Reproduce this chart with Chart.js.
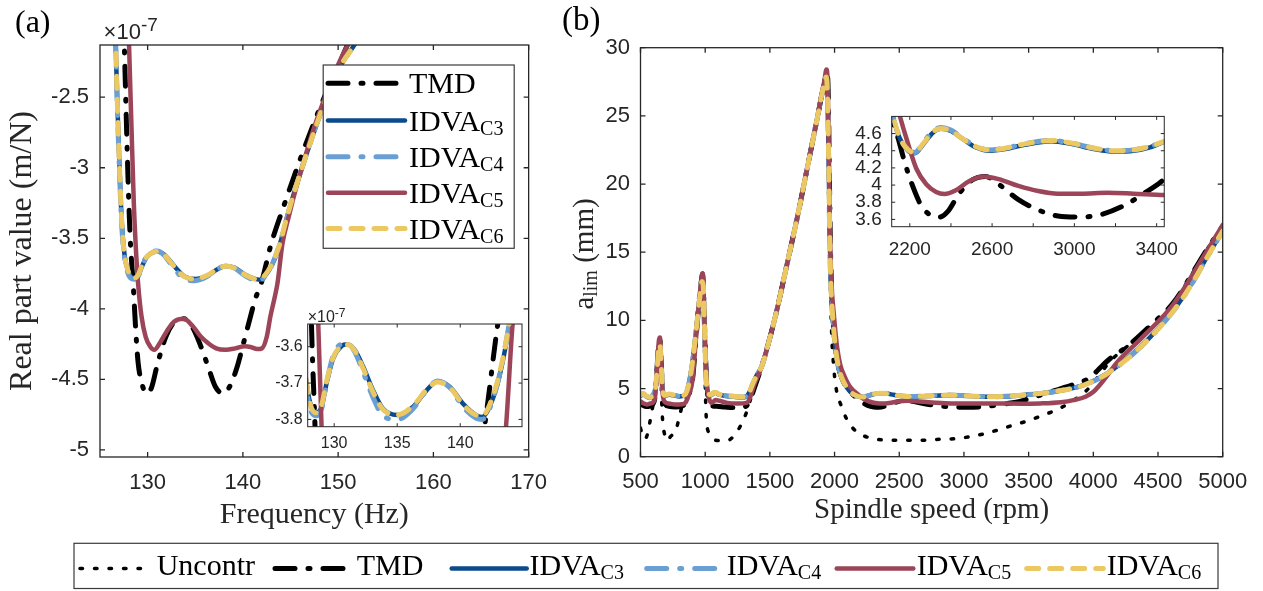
<!DOCTYPE html>
<html lang="en">
<head>
<meta charset="utf-8">
<title>Real part of the FRF and limiting depth of cut</title>
<script src="https://cdn.jsdelivr.net/npm/chart.js@4.4.1/dist/chart.umd.min.js"></script>
<style>
  html, body { margin: 0; padding: 0; background: #fff; }
  #page { position: relative; width: 1263px; height: 591px; overflow: hidden; background: #fff; }
  #page canvas { position: absolute; display: block; }
</style>
</head>
<body>
<div id="page">
  <canvas id="frfMain" width="560" height="540" style="left:0;top:0;width:560px;height:540px"></canvas>
  <canvas id="alimMain" width="703" height="540" style="left:560px;top:0;width:703px;height:540px"></canvas>
  <canvas id="frfZoom" width="280" height="165" style="left:250px;top:295px;width:280px;height:165px"></canvas>
  <canvas id="alimZoom" width="350" height="170" style="left:840px;top:95px;width:350px;height:170px"></canvas>
  <canvas id="legendBar" width="1263" height="51" style="left:0;top:540px;width:1263px;height:51px"></canvas>
</div>
<script>
// ---------------- (a) real part of the tool-tip FRF, in units of 1e-7 m/N ----------------
const frfExponent = '-7';
const freqTMD = [127.3, 127.55, 127.8, 128.0, 128.2, 128.48, 128.75, 129.0, 129.4, 129.9, 130.4, 131.0, 131.9, 132.85, 133.8, 134.7, 135.5, 136.4, 137.1, 137.9, 138.7, 139.4, 140.0, 140.7, 141.3, 141.92, 142.97, 144.3, 145.8, 147.3, 148.8, 150.2, 151.1, 152.0];
const reTMD   = [-1.6, -2.13, -2.75, -3.2, -3.54, -3.82, -4.15, -4.38, -4.53, -4.6, -4.56, -4.4, -4.2, -4.09, -4.07, -4.13, -4.25, -4.42, -4.55, -4.6, -4.54, -4.41, -4.26, -4.08, -3.93, -3.82, -3.54, -3.27, -2.98, -2.71, -2.46, -2.25, -2.11, -1.98];

const freqIDVA = [126.45, 126.65, 126.8, 127.05, 127.3, 127.6, 127.9, 128.19, 128.61, 129.01, 129.4, 129.92, 130.59, 131.03, 131.65, 132.3, 133.09, 133.86, 135.02, 136.27, 137.33, 138.19, 139.16, 140.21, 141.27, 141.75, 142.33, 143.1, 143.87, 144.6, 145.5, 146.5, 147.5, 148.5, 149.5, 150.5, 151.7, 152.5];
const reC3 = [-1.7, -2.13, -2.5, -3.0, -3.4, -3.63, -3.72, -3.765, -3.78, -3.765, -3.70, -3.632, -3.598, -3.593, -3.61, -3.655, -3.72, -3.77, -3.788, -3.765, -3.72, -3.696, -3.71, -3.756, -3.788, -3.793, -3.765, -3.683, -3.545, -3.36, -3.15, -2.94, -2.74, -2.55, -2.38, -2.25, -2.13, -2.04];
const reC4 = [-1.7, -2.13, -2.52, -3.03, -3.43, -3.65, -3.74, -3.78, -3.79, -3.77, -3.70, -3.625, -3.592, -3.59, -3.615, -3.67, -3.74, -3.79, -3.80, -3.77, -3.72, -3.694, -3.712, -3.765, -3.797, -3.80, -3.77, -3.68, -3.54, -3.36, -3.15, -2.94, -2.74, -2.55, -2.38, -2.25, -2.13, -2.04];
const reC6 = [-1.7, -2.13, -2.5, -3.0, -3.4, -3.63, -3.72, -3.768, -3.782, -3.76, -3.695, -3.63, -3.598, -3.594, -3.612, -3.66, -3.725, -3.772, -3.787, -3.762, -3.718, -3.697, -3.712, -3.758, -3.788, -3.79, -3.76, -3.675, -3.54, -3.355, -3.15, -2.94, -2.74, -2.55, -2.38, -2.25, -2.13, -2.04];

const freqC5 = [127.85, 128.05, 128.3, 128.55, 128.74, 129.0, 129.35, 129.8, 130.3, 130.7, 131.3, 132.0, 132.8, 133.8, 134.7, 135.5, 136.3, 137.2, 138.2, 139.2, 140.2, 140.8, 141.5, 142.0, 142.5, 142.9, 143.3, 143.63, 144.15, 144.8, 145.6, 146.5, 147.4, 148.4, 149.3, 150.2, 151.0, 151.8];
const reC5   = [-1.6, -2.13, -2.7, -3.25, -3.54, -3.82, -4.05, -4.2, -4.27, -4.29, -4.24, -4.16, -4.09, -4.07, -4.12, -4.19, -4.24, -4.28, -4.29, -4.28, -4.265, -4.27, -4.285, -4.28, -4.2, -4.05, -3.93, -3.82, -3.54, -3.35, -3.14, -2.93, -2.73, -2.54, -2.38, -2.24, -2.13, -2.02];

const freqTicks = [130, 140, 150, 160, 170];
const freqTickLabels = ['130', '140', '150', '160', '170'];
const reTicks = [-5, -4.5, -4, -3.5, -3, -2.5];
const reTickLabels = ['-5', '-4.5', '-4', '-3.5', '-3', '-2.5'];
const zoomFreqTicks = [130, 135, 140];
const zoomFreqLabels = ['130', '135', '140'];
const zoomReTicks = [-3.8, -3.7, -3.6];
const zoomReLabels = ['-3.8', '-3.7', '-3.6'];

// ---------------- (b) limiting axial depth of cut vs spindle speed ----------------
const rpmUnc  = [500, 515, 535, 555, 573, 595, 615, 632, 645, 652, 660, 666, 675, 690, 707, 730, 775, 805, 830, 855, 878, 900, 930, 955, 975, 983, 993, 1000, 1005, 1012, 1035, 1063, 1110, 1166, 1220, 1269, 1321, 1350, 1380, 1436, 1505, 1560, 1609, 1660, 1713, 1760, 1800, 1840, 1870, 1900, 1922, 1938, 1947, 1954, 1960, 1966, 1972, 1980, 1990, 2000, 2020, 2043, 2095, 2164, 2268, 2407, 2545, 2650, 2788, 2927, 3065, 3204, 3343, 3481, 3614, 3743, 3850, 3950, 4040, 4130, 4250, 4337, 4440, 4620, 4878, 5000];
const alimUnc = [2.1, 1.55, 1.3, 1.7, 2.56, 3.7, 4.6, 6.9, 8.5, 8.4, 5.5, 3.5, 2.3, 1.5, 1.17, 1.45, 2.0, 3.1, 4.0, 4.3, 4.8, 5.5, 8.8, 11.6, 13.2, 12.8, 9.0, 5.5, 3.6, 2.4, 1.7, 1.3, 1.18, 1.17, 1.5, 2.2, 3.3, 4.2, 5.2, 6.6, 8.9, 11.0, 13.1, 15.3, 17.6, 19.8, 21.7, 23.6, 25.0, 26.5, 27.4, 28.1, 27.6, 25.0, 20.0, 15.0, 11.0, 8.5, 7.0, 5.9, 4.6, 3.95, 2.73, 1.88, 1.39, 1.22, 1.2, 1.2, 1.27, 1.32, 1.5, 1.8, 2.2, 2.6, 3.05, 3.56, 4.15, 4.88, 5.9, 7.0, 8.0, 8.7, 9.6, 11.3, 15.2, 16.9];

const rpmTMD  = [500, 530, 560, 590, 612, 630, 643, 650, 660, 672, 690, 720, 770, 820, 850, 875, 900, 930, 955, 972, 980, 990, 1000, 1012, 1027, 1050, 1090, 1150, 1220, 1290, 1330, 1360, 1400, 1436, 1505, 1560, 1609, 1660, 1713, 1760, 1800, 1840, 1870, 1900, 1922, 1938, 1947, 1954, 1960, 1967, 1975, 1985, 2000, 2030, 2060, 2090, 2112, 2144, 2176, 2216, 2256, 2304, 2344, 2384, 2440, 2504, 2568, 2632, 2728, 2824, 2920, 3024, 3128, 3240, 3336, 3432, 3550, 3700, 3850, 3976, 4040, 4130, 4250, 4337, 4440, 4620, 4878, 5000];
const alimTMD = [3.85, 3.72, 3.68, 3.8, 4.4, 6.8, 8.5, 8.6, 6.9, 4.5, 3.85, 3.7, 3.65, 3.72, 3.95, 4.6, 5.5, 8.8, 11.6, 13.0, 13.4, 11.2, 8.0, 5.4, 4.1, 3.75, 3.7, 3.65, 3.6, 3.62, 3.85, 4.5, 5.6, 6.6, 8.9, 11.0, 13.1, 15.3, 17.6, 19.8, 21.7, 23.6, 25.0, 26.5, 27.4, 28.2, 27.8, 25.0, 20.5, 16.0, 12.8, 10.8, 8.6, 6.6, 5.7, 5.1, 4.8, 4.54, 4.26, 3.975, 3.76, 3.645, 3.627, 3.69, 3.90, 4.06, 4.10, 4.01, 3.83, 3.71, 3.64, 3.627, 3.655, 3.76, 3.90, 4.06, 4.4, 4.85, 5.3, 5.8, 6.4, 7.2, 8.0, 8.7, 9.6, 11.3, 15.2, 16.9];

const rpmIDVA = [500, 520, 545, 570, 595, 615, 630, 642, 650, 660, 672, 690, 720, 760, 800, 840, 865, 890, 915, 940, 960, 975, 985, 995, 1005, 1018, 1040, 1075, 1110, 1160, 1220, 1280, 1315, 1340, 1370, 1400, 1436, 1505, 1560, 1609, 1660, 1713, 1760, 1800, 1840, 1870, 1900, 1922, 1935, 1943, 1950, 1957, 1964, 1972, 1982, 1993, 2008, 2030, 2055, 2080, 2100, 2120, 2152, 2192, 2224, 2264, 2312, 2352, 2400, 2456, 2520, 2584, 2664, 2760, 2888, 2984, 3096, 3192, 3288, 3368, 3437, 3589, 3718, 3924, 4105, 4362, 4620, 4750, 4878, 5000];
const alimC3 = [4.45, 4.6, 4.45, 4.35, 4.5, 5.0, 6.6, 8.1, 8.3, 6.8, 4.8, 4.45, 4.55, 4.5, 4.42, 4.5, 5.0, 6.2, 8.0, 10.2, 11.9, 12.9, 12.6, 9.5, 6.2, 4.75, 4.5, 4.7, 4.55, 4.45, 4.4, 4.35, 4.4, 4.7, 5.4, 6.0, 6.6, 8.9, 11.0, 13.1, 15.3, 17.6, 19.8, 21.7, 23.6, 25.0, 26.5, 27.4, 27.9, 27.2, 24.5, 20.0, 15.5, 12.5, 10.8, 9.4, 7.9, 6.6, 5.8, 5.3, 5.0, 4.78, 4.54, 4.40, 4.37, 4.47, 4.61, 4.655, 4.63, 4.54, 4.44, 4.40, 4.42, 4.47, 4.51, 4.48, 4.42, 4.39, 4.40, 4.44, 4.506, 4.64, 4.8, 5.25, 6.1, 8.05, 10.74, 12.55, 14.64, 16.6];
const alimC4 = [4.5, 4.62, 4.42, 4.33, 4.52, 5.0, 6.5, 8.0, 8.2, 6.7, 4.8, 4.5, 4.58, 4.52, 4.44, 4.52, 5.0, 6.1, 7.9, 10.1, 11.8, 12.8, 12.5, 9.4, 6.1, 4.78, 4.52, 4.72, 4.57, 4.47, 4.42, 4.37, 4.42, 4.72, 5.4, 6.0, 6.6, 8.9, 11.0, 13.1, 15.3, 17.6, 19.8, 21.7, 23.6, 25.0, 26.5, 27.4, 27.8, 27.0, 24.3, 19.8, 15.3, 12.4, 10.7, 9.3, 7.9, 6.6, 5.8, 5.3, 5.0, 4.79, 4.55, 4.41, 4.38, 4.49, 4.63, 4.67, 4.64, 4.55, 4.45, 4.41, 4.43, 4.48, 4.52, 4.49, 4.43, 4.40, 4.41, 4.45, 4.51, 4.64, 4.8, 5.24, 6.08, 8.02, 10.7, 12.5, 14.6, 16.55];
const alimC6 = [4.55, 4.63, 4.46, 4.36, 4.5, 5.0, 6.55, 8.05, 8.25, 6.75, 4.8, 4.5, 4.6, 4.53, 4.45, 4.52, 5.0, 6.15, 7.95, 10.15, 11.85, 12.85, 12.55, 9.45, 6.15, 4.8, 4.55, 4.73, 4.58, 4.48, 4.43, 4.38, 4.43, 4.72, 5.4, 6.0, 6.6, 8.9, 11.0, 13.1, 15.3, 17.6, 19.8, 21.7, 23.6, 25.0, 26.5, 27.4, 27.85, 27.1, 24.4, 19.9, 15.4, 12.45, 10.75, 9.35, 7.9, 6.6, 5.8, 5.3, 5.0, 4.79, 4.55, 4.41, 4.38, 4.48, 4.62, 4.66, 4.63, 4.54, 4.45, 4.41, 4.43, 4.48, 4.52, 4.49, 4.43, 4.40, 4.41, 4.45, 4.51, 4.64, 4.8, 5.24, 6.08, 8.02, 10.7, 12.5, 14.6, 16.55];

const rpmC5  = [500, 525, 550, 575, 600, 615, 630, 642, 650, 660, 672, 690, 720, 770, 820, 850, 875, 900, 930, 955, 970, 980, 990, 1000, 1012, 1027, 1050, 1080, 1110, 1170, 1250, 1320, 1345, 1380, 1436, 1505, 1560, 1609, 1660, 1713, 1760, 1800, 1840, 1870, 1900, 1922, 1937, 1946, 1953, 1960, 1968, 1978, 1990, 2003, 2020, 2045, 2077, 2105, 2130, 2152, 2184, 2232, 2280, 2328, 2368, 2424, 2488, 2560, 2632, 2728, 2824, 2920, 3032, 3160, 3288, 3437, 3589, 3750, 3847, 3940, 4001, 4040, 4079, 4182, 4362, 4620, 4878, 5000];
const alimC5 = [4.05, 3.9, 3.83, 3.9, 4.0, 4.6, 6.8, 8.5, 8.75, 7.0, 4.6, 4.0, 3.9, 3.83, 3.85, 4.0, 4.6, 5.5, 8.8, 11.6, 12.9, 13.45, 11.5, 8.0, 5.5, 4.4, 3.95, 4.15, 4.1, 3.95, 3.9, 3.95, 4.3, 5.3, 6.6, 8.9, 11.0, 13.1, 15.3, 17.6, 19.8, 21.7, 23.6, 25.0, 26.6, 27.6, 28.4, 27.6, 24.0, 19.0, 15.0, 12.4, 10.9, 9.5, 8.0, 6.7, 5.9, 5.35, 5.0, 4.8, 4.54, 4.19, 4.01, 3.92, 3.896, 3.94, 4.045, 4.10, 4.07, 3.99, 3.93, 3.90, 3.90, 3.91, 3.90, 3.885, 3.91, 4.0, 4.15, 4.4, 4.76, 5.15, 5.6, 6.9, 8.6, 11.2, 15.1, 17.0];

const rpmTicks = [500, 1000, 1500, 2000, 2500, 3000, 3500, 4000, 4500, 5000];
const rpmTickLabels = ['500', '1000', '1500', '2000', '2500', '3000', '3500', '4000', '4500', '5000'];
const alimTicks = [0, 5, 10, 15, 20, 25, 30];
const alimTickLabels = ['0', '5', '10', '15', '20', '25', '30'];
const zoomRpmTicks = [2200, 2400, 2600, 2800, 3000, 3200, 3400];
const zoomRpmLabels = ['2200', '', '2600', '', '3000', '', '3400'];
const zoomAlimTicks = [3.6, 3.8, 4, 4.2, 4.4, 4.6];
const zoomAlimLabels = ['3.6', '3.8', '4', '4.2', '4.4', '4.6'];

// ---------------- look ----------------
const SERIF = '"Liberation Serif", "Times New Roman", serif';
const SANS = '"Liberation Sans", Arial, Helvetica, sans-serif';
const INK = '#262626';
Chart.defaults.font.family = SANS;

const STYLES = {
  unc: { color: '#000000', width: 3.5, dash: [2.5, 12] },
  tmd: { color: '#000000', width: 5, dash: [20, 13, 2, 13] },
  c3:  { color: '#0b4a8c', width: 4.5, dash: [] },
  c4:  { color: '#6a9fd3', width: 5, dash: [20, 13, 2, 13] },
  c5:  { color: '#9c4558', width: 4.5, dash: [] },
  c6:  { color: '#ebc862', width: 5, dash: [12, 11] }
};
const LEGEND_ITEMS = [
  { key: 'unc', name: 'Uncontr', sub: '' },
  { key: 'tmd', name: 'TMD', sub: '' },
  { key: 'c3', name: 'IDVA', sub: 'C3' },
  { key: 'c4', name: 'IDVA', sub: 'C4' },
  { key: 'c5', name: 'IDVA', sub: 'C5' },
  { key: 'c6', name: 'IDVA', sub: 'C6' }
];

function line(xs, ys, key, order) {
  const st = STYLES[key];
  return {
    data: xs.map((x, i) => ({ x: x, y: ys[i] })),
    borderColor: st.color, borderWidth: st.width, borderDash: st.dash,
    borderCapStyle: 'round', borderJoinStyle: 'round',
    pointRadius: 0, pointHoverRadius: 0, fill: false,
    cubicInterpolationMode: 'monotone', clip: 0, order: order
  };
}

function frfSets() {
  return [
    line(freqTMD, reTMD, 'tmd', 5),
    line(freqIDVA, reC3, 'c3', 4),
    line(freqIDVA, reC4, 'c4', 3),
    line(freqC5, reC5, 'c5', 2),
    line(freqIDVA, reC6, 'c6', 1)
  ];
}
function alimSets() {
  return [
    line(rpmUnc, alimUnc, 'unc', 6),
    line(rpmTMD, alimTMD, 'tmd', 5),
    line(rpmIDVA, alimC3, 'c3', 4),
    line(rpmIDVA, alimC4, 'c4', 3),
    line(rpmC5, alimC5, 'c5', 2),
    line(rpmIDVA, alimC6, 'c6', 1)
  ];
}

function scale(cfg) {
  return {
    type: 'linear', min: cfg.min, max: cfg.max,
    grid: { display: false, drawTicks: false, tickLength: 0 },
    border: { display: false },
    afterBuildTicks: s => { s.ticks = cfg.ticks.map(v => ({ value: v })); },
    afterFit: s => {
      if (cfg.w !== undefined) s.width = cfg.w;
      if (cfg.h !== undefined) s.height = cfg.h;
    },
    ticks: {
      autoSkip: false, maxRotation: 0, minRotation: 0, padding: cfg.pad, color: INK,
      font: { family: SANS, size: cfg.fs }, callback: (v, i) => cfg.labels[i]
    },
    title: cfg.title
      ? { display: true, text: cfg.title, color: INK, font: { family: SERIF, size: cfg.tfs }, padding: cfg.tpad }
      : { display: false }
  };
}

// axes box with inward ticks on all four sides, plus any overlays
function framePlugin(opt) {
  return {
    id: 'frame',
    beforeDraw(chart) {
      if (!opt.fill) return;
      const a = chart.chartArea, c = chart.ctx;
      c.save();
      c.fillStyle = '#ffffff';
      c.fillRect(a.left, a.top, a.right - a.left, a.bottom - a.top);
      c.restore();
    },
    afterDraw(chart) {
      const a = chart.chartArea, c = chart.ctx, xs = chart.scales.x, ys = chart.scales.y;
      c.save();
      c.strokeStyle = INK; c.lineWidth = opt.lw; c.lineCap = 'butt'; c.setLineDash([]);
      c.beginPath();
      xs.ticks.forEach(t => {
        const p = xs.getPixelForValue(t.value);
        c.moveTo(p, a.bottom); c.lineTo(p, a.bottom - opt.tick);
        c.moveTo(p, a.top); c.lineTo(p, a.top + opt.tick);
      });
      ys.ticks.forEach(t => {
        const p = ys.getPixelForValue(t.value);
        c.moveTo(a.left, p); c.lineTo(a.left + opt.tick, p);
        c.moveTo(a.right, p); c.lineTo(a.right - opt.tick, p);
      });
      c.stroke();
      c.strokeRect(a.left, a.top, a.right - a.left, a.bottom - a.top);
      c.restore();
      if (opt.decorate) opt.decorate(c, chart);
    }
  };
}

function makeChart(id, datasets, xCfg, yCfg, pad, frame) {
  return new Chart(document.getElementById(id), {
    type: 'line',
    data: { datasets: datasets },
    options: {
      responsive: false, animation: false, devicePixelRatio: 1, events: [],
      layout: { padding: pad },
      plugins: { legend: { display: false }, tooltip: { enabled: false } },
      scales: { x: scale(xCfg), y: scale(yCfg) }
    },
    plugins: [frame]
  });
}

// ---------------- text helpers ----------------
function drawTag(c, text, x, y, size) {
  c.save();
  c.font = size + 'px ' + SERIF; c.fillStyle = '#000'; c.textAlign = 'left'; c.textBaseline = 'alphabetic';
  c.fillText(text, x, y);
  c.restore();
}
function drawExponent(c, x, y, size, supSize, rise) {
  c.save();
  c.fillStyle = INK; c.textAlign = 'left'; c.textBaseline = 'alphabetic';
  c.font = size + 'px ' + SANS;
  c.fillText('\u00d710', x, y);
  const w = c.measureText('\u00d710').width;
  c.font = supSize + 'px ' + SANS;
  c.fillText(frfExponent, x + w, y - rise);
  c.restore();
}
function drawName(c, x, baseline, name, sub, size, subSize, drop) {
  c.fillStyle = '#000'; c.textAlign = 'left'; c.textBaseline = 'alphabetic';
  c.font = size + 'px ' + SERIF;
  c.fillText(name, x, baseline);
  if (sub) {
    const w = c.measureText(name).width;
    c.font = subSize + 'px ' + SERIF;
    c.fillText(sub, x + w, baseline + drop);
  }
}
function drawSample(c, x0, x1, y, key) {
  const st = STYLES[key];
  c.save();
  c.strokeStyle = st.color; c.lineWidth = st.width; c.lineCap = 'round';
  c.setLineDash(st.dash);
  c.beginPath(); c.moveTo(x0, y); c.lineTo(x1, y); c.stroke();
  c.restore();
}

// legend inside panel (a)
const LEGEND_A = { x: 323.2, y: 65, w: 191, h: 183.3, x0: 328, x1: 405, tx: 409, rows: [83.3, 120.5, 156.7, 192.7, 228.5] };
function decorateFrf(c) {
  drawTag(c, '(a)', 15, 31.5, 32);
  drawExponent(c, 103.6, 39.3, 22, 19, 8);
  const L = LEGEND_A;
  c.save();
  c.fillStyle = '#fff'; c.fillRect(L.x, L.y, L.w, L.h);
  c.strokeStyle = '#3a3a3a'; c.lineWidth = 1.2; c.setLineDash([]);
  c.strokeRect(L.x, L.y, L.w, L.h);
  LEGEND_ITEMS.slice(1).forEach((it, i) => {
    drawSample(c, L.x0, L.x1, L.rows[i], it.key);
    drawName(c, L.tx, L.rows[i] + 10, it.name, it.sub, 30, 20, 4);
  });
  c.restore();
}
function decorateFrfZoom(c) {
  drawExponent(c, 57.7, 26.7, 16, 12, 5);
}
function decorateAlim(c) {
  drawTag(c, '(b)', 2, 30, 33);
  // y title: a_lim (mm)
  c.save();
  c.translate(23, 254);
  c.rotate(-Math.PI / 2);
  c.fillStyle = INK; c.textAlign = 'left'; c.textBaseline = 'alphabetic';
  c.font = '29px ' + SERIF; const wa = c.measureText('a').width; const wr = c.measureText(' (mm)').width;
  c.font = '20px ' + SERIF; const ws = c.measureText('lim').width;
  let x = -(wa + ws + wr) / 2;
  const base = 10;
  c.font = '29px ' + SERIF; c.fillText('a', x, base); x += wa;
  c.font = '20px ' + SERIF; c.fillText('lim', x, base + 4); x += ws;
  c.font = '29px ' + SERIF; c.fillText(' (mm)', x, base);
  c.restore();
}

// ---------------- charts ----------------
makeChart('frfMain', frfSets(),
  { min: 125, max: 170, ticks: freqTicks, labels: freqTickLabels, fs: 22, pad: 13, h: 83,
    title: 'Frequency (Hz)', tfs: 30, tpad: { top: 0, bottom: 7 } },
  { min: -5.05, max: -2.13, ticks: reTicks, labels: reTickLabels, fs: 22, pad: 11, w: 100,
    title: 'Real part value (m/N)', tfs: 32, tpad: { top: 3, bottom: 0 } },
  { top: 45, right: 30, left: 0, bottom: 0 },
  framePlugin({ lw: 1.3, tick: 5, fill: false, decorate: decorateFrf }));

makeChart('alimMain', alimSets(),
  { min: 500, max: 5000, ticks: rpmTicks, labels: rpmTickLabels, fs: 22, pad: 12.5, h: 83.3,
    title: 'Spindle speed (rpm)', tfs: 29, tpad: { top: 0, bottom: 11.8 } },
  { min: 0, max: 30, ticks: alimTicks, labels: alimTickLabels, fs: 22, pad: 10.5, w: 80.5 },
  { top: 47.7, right: 40.3, left: 0, bottom: 0 },
  framePlugin({ lw: 1.3, tick: 5, fill: false, decorate: decorateAlim }));

makeChart('frfZoom', frfSets(),
  { min: 127.9, max: 144.9, ticks: zoomFreqTicks, labels: zoomFreqLabels, fs: 16, pad: 7, h: 33.3 },
  { min: -3.82, max: -3.5375, ticks: zoomReTicks, labels: zoomReLabels, fs: 16, pad: 5, w: 57.7 },
  { top: 29, right: 8, left: 0, bottom: 0 },
  framePlugin({ lw: 1, tick: 3.5, fill: true, decorate: decorateFrfZoom }));

makeChart('alimZoom', alimSets(),
  { min: 2112, max: 3437, ticks: zoomRpmTicks, labels: zoomRpmLabels, fs: 19, pad: 11.6, h: 38.3 },
  { min: 3.515, max: 4.8, ticks: zoomAlimTicks, labels: zoomAlimLabels, fs: 19, pad: 10, w: 51.7 },
  { top: 11, right: 22.3, left: 0, bottom: 0 },
  framePlugin({ lw: 1, tick: 3.5, fill: true }));

// ---------------- shared legend along the bottom ----------------
(function drawLegendBar() {
  const c = document.getElementById('legendBar').getContext('2d');
  const box = { x: 74, y: 3.3, w: 1144, h: 45.2 };
  const samples = [[80, 148.3], [275, 353.3], [451.7, 526.7], [646.7, 723.3], [836.7, 913.3], [1026.7, 1103.3]];
  const textX = [156.7, 356.7, 529.5, 726.7, 916.7, 1106.7];
  c.fillStyle = '#fff'; c.fillRect(box.x, box.y, box.w, box.h);
  c.strokeStyle = '#3a3a3a'; c.lineWidth = 1.2; c.strokeRect(box.x, box.y, box.w, box.h);
  LEGEND_ITEMS.forEach((it, i) => {
    drawSample(c, samples[i][0], samples[i][1], 28.5, it.key);
    drawName(c, textX[i], 35, it.name, it.sub, 30, 20, 4);
  });
})();
</script>
</body>
</html>
